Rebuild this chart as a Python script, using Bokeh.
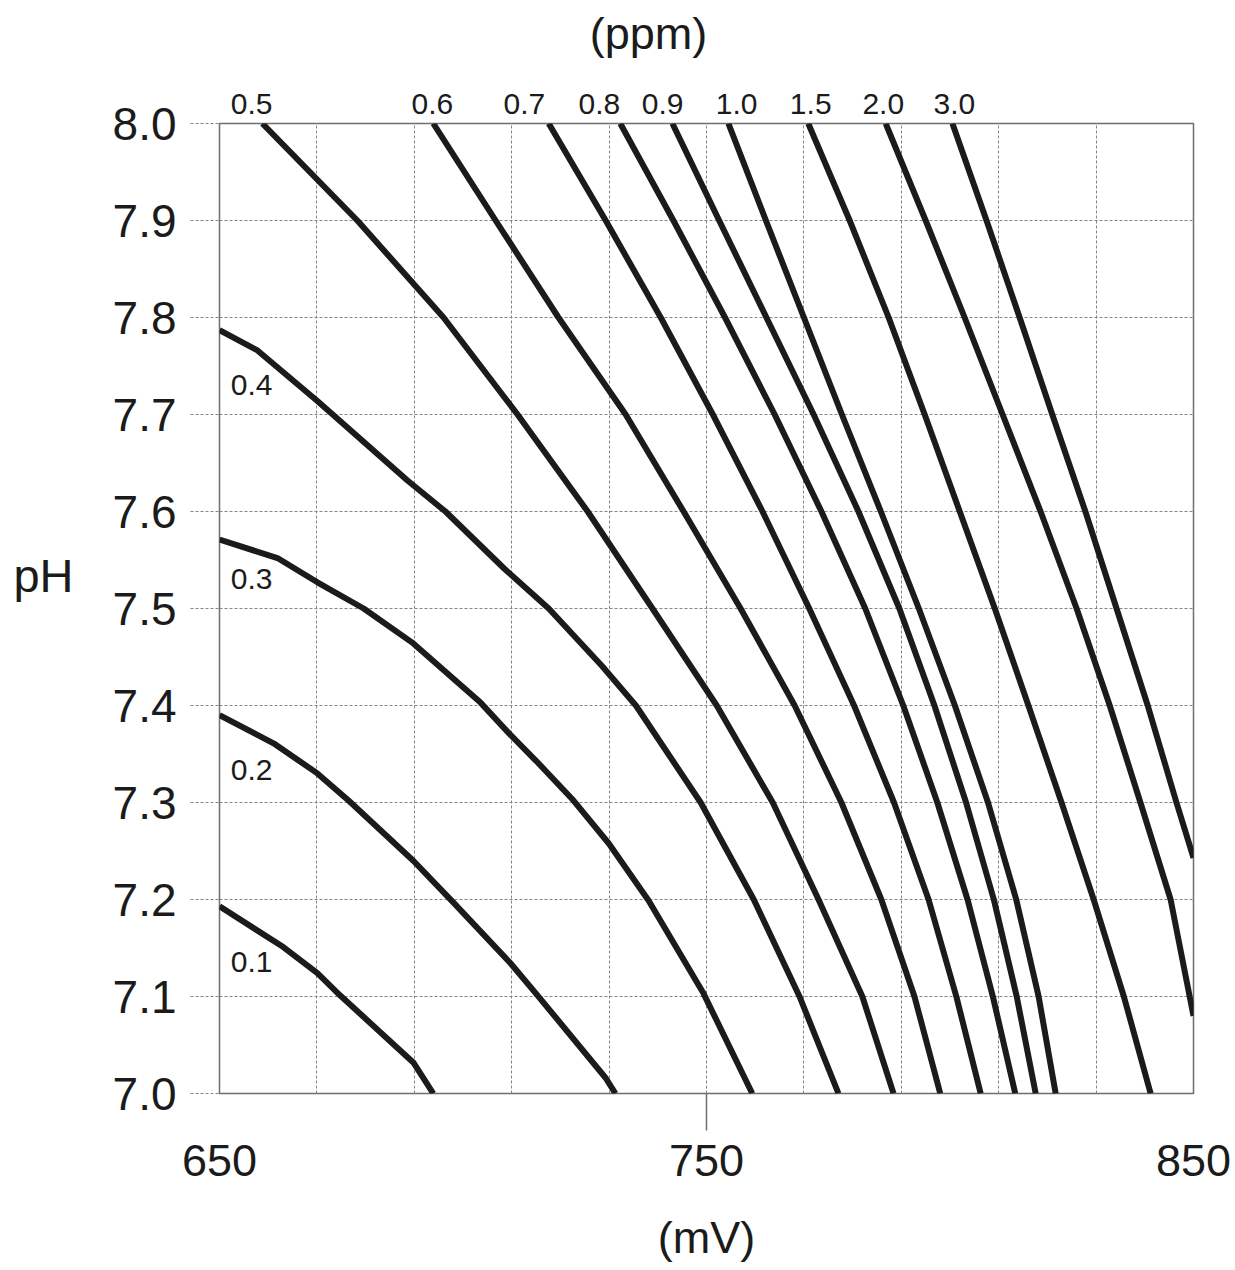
from bokeh.plotting import figure
from bokeh.models import FixedTicker, LinearAxis, Range1d, PrintfTickFormatter
from bokeh.embed import file_html
from bokeh.resources import INLINE

# ---- data ----
ph_levels = [8.0, 7.9, 7.8, 7.7, 7.6, 7.5, 7.4, 7.3, 7.2, 7.1, 7.0]

ph_01 = [7.193, 7.151, 7.124, 7.101, 7.032, 7.0]
mv_01 = [650.0, 663.1, 670.1, 674.8, 689.8, 693.9]

ph_02 = [7.390, 7.361, 7.330, 7.302, 7.240, 7.197, 7.134, 7.103, 7.016, 7.0]
mv_02 = [650.0, 661.1, 670.1, 676.5, 689.8, 698.0, 709.8, 715.0, 729.3, 731.3]

ph_03 = [7.571, 7.552, 7.527, 7.500, 7.464, 7.403, 7.371, 7.343, 7.302, 7.258, 7.199, 7.103, 7.0]
mv_03 = [650.0, 661.9, 670.1, 679.6, 689.8, 703.6, 709.5, 715.0, 722.7, 729.9, 738.1, 749.4, 759.4]

ph_04 = [7.787, 7.766, 7.714, 7.632, 7.600, 7.541, 7.500, 7.441, 7.400, 7.300, 7.200, 7.100, 7.0]
mv_04 = [650.0, 657.8, 670.1, 688.6, 696.4, 708.5, 717.6, 728.5, 735.5, 748.8, 759.7, 769.1, 777.1]

mv_05 = [658.8, 678.3, 696.0, 711.2, 725.6, 738.9, 752.1, 763.6, 773.0, 782.0, 788.4]
mv_06 = [693.9, 706.7, 719.6, 733.4, 745.3, 757.0, 768.1, 777.7, 785.9, 792.7, 798.0]
mv_07 = [717.6, 729.3, 740.6, 751.3, 761.5, 771.1, 780.3, 788.5, 795.6, 801.3, 806.3]
mv_08 = [732.3, 743.2, 753.8, 764.0, 773.6, 782.6, 790.4, 797.4, 803.6, 808.8, 813.4]
mv_09 = [743.0, 752.6, 762.3, 772.0, 781.2, 789.6, 796.8, 803.3, 809.0, 813.7, 817.6]
mv_10 = [754.5, 762.2, 770.0, 777.8, 785.8, 793.6, 801.0, 807.8, 813.6, 818.2, 821.7]
mv_15 = [770.9, 779.4, 787.4, 794.8, 802.0, 809.2, 816.1, 822.9, 829.5, 835.7, 841.2]

ph_20 = [8.0, 7.9, 7.8, 7.7, 7.6, 7.5, 7.4, 7.3, 7.2, 7.08]
mv_20 = [786.8, 795.0, 803.0, 810.8, 818.6, 826.0, 832.8, 839.1, 845.3, 850.0]

ph_30 = [8.0, 7.9, 7.8, 7.7, 7.6, 7.5, 7.4, 7.3, 7.243]
mv_30 = [800.5, 807.5, 814.3, 821.0, 827.8, 834.2, 840.6, 846.5, 850.0]

top_names = ["0.5", "0.6", "0.7", "0.8", "0.9", "1.0", "1.5", "2.0", "3.0"]
side_names = ["0.4", "0.3", "0.2", "0.1"]

x_ticks = [650, 750, 850]
x_grid = [650, 670, 690, 710, 730, 750, 770, 790, 810, 830, 850]
y_ticks = [7.0, 7.1, 7.2, 7.3, 7.4, 7.5, 7.6, 7.7, 7.8, 7.9, 8.0]

# ---- layout / style (not data) ----
top_label_x = [656.6, 693.7, 712.6, 728.0, 741.0, 756.2, 771.4, 786.3, 800.9]
side_label_x = 652.3
side_label_y = [7.730, 7.530, 7.334, 7.136]
ppm_title_x = 738.1
ph_title_y = 7.534

FONT = "Liberation Sans"
INK = "#1b1b1b"
GRID = "#858585"
FRAME = "#6e6e6e"

p = figure(width=1235, height=1270,
           x_range=Range1d(650, 850), y_range=Range1d(7.0, 8.0),
           output_backend="svg", toolbar_location=None,
           min_border_left=219, min_border_right=42,
           min_border_top=123, min_border_bottom=177)

p.background_fill_color = "white"
p.border_fill_color = "white"
p.outline_line_color = FRAME
p.outline_line_width = 1.5

p.xgrid.ticker = FixedTicker(ticks=x_grid)
p.ygrid.ticker = FixedTicker(ticks=y_ticks)
for g in (p.xgrid, p.ygrid):
    g.grid_line_color = GRID
    g.grid_line_width = 1
    g.grid_line_dash = "3 2"

# bottom: mark-only axis (long mark at 750) next to the frame
xa = p.xaxis[0]
xa.ticker = FixedTicker(ticks=[], minor_ticks=[750])
xa.axis_line_color = None
xa.major_tick_out = 37
xa.major_tick_in = 0
xa.minor_tick_out = 37
xa.minor_tick_in = 0
xa.minor_tick_line_color = FRAME
xa.minor_tick_line_width = 1.5
xa.major_label_standoff = 0

# bottom: labelled axis
xb = LinearAxis(ticker=FixedTicker(ticks=x_ticks))
xb.axis_line_color = None
xb.major_tick_line_color = None
xb.minor_tick_line_color = None
xb.major_label_text_font = FONT
xb.major_label_text_font_size = "45px"
xb.major_label_text_color = INK
xb.major_label_standoff = 8
xb.axis_label = "(mV)"
xb.axis_label_text_font = FONT
xb.axis_label_text_font_size = "45px"
xb.axis_label_text_font_style = "normal"
xb.axis_label_text_color = INK
xb.axis_label_standoff = 33
p.add_layout(xb, "below")

# left: pH ticks
ya = p.yaxis[0]
ya.ticker = FixedTicker(ticks=y_ticks)
ya.formatter = PrintfTickFormatter(format="%.1f")
ya.axis_line_color = None
ya.major_tick_out = 29
ya.major_tick_in = 0
ya.major_tick_line_color = GRID
ya.major_tick_line_dash = "3 2"
ya.major_tick_line_width = 1
ya.minor_tick_line_color = None
ya.major_label_text_font = FONT
ya.major_label_text_font_size = "46px"
ya.major_label_text_color = INK
ya.major_label_standoff = 14

# left: "pH" name, placed as a single labelled tick
yb = LinearAxis(ticker=FixedTicker(ticks=[ph_title_y]))
yb.major_label_overrides = {ph_title_y: "pH"}
yb.axis_line_color = None
yb.major_tick_line_color = None
yb.minor_tick_line_color = None
yb.major_label_text_font = FONT
yb.major_label_text_font_size = "47px"
yb.major_label_text_color = INK
yb.major_label_standoff = 30
p.add_layout(yb, "left")

# top: concentration labels
xt = LinearAxis(ticker=FixedTicker(ticks=top_label_x))
xt.major_label_overrides = {v: n for v, n in zip(top_label_x, top_names)}
xt.axis_line_color = None
xt.major_tick_line_color = None
xt.minor_tick_line_color = None
xt.major_label_text_font = FONT
xt.major_label_text_font_size = "30px"
xt.major_label_text_color = INK
xt.major_label_standoff = 4
p.add_layout(xt, "above")

# top: "(ppm)" unit, placed as a single labelled tick
xp = LinearAxis(ticker=FixedTicker(ticks=[ppm_title_x]))
xp.major_label_overrides = {ppm_title_x: "(ppm)"}
xp.axis_line_color = None
xp.major_tick_line_color = None
xp.minor_tick_line_color = None
xp.major_label_text_font = FONT
xp.major_label_text_font_size = "45px"
xp.major_label_text_color = INK
xp.major_label_standoff = 26
p.add_layout(xp, "above")

curves = [
    (mv_01, ph_01), (mv_02, ph_02), (mv_03, ph_03), (mv_04, ph_04),
    (mv_05, ph_levels), (mv_06, ph_levels), (mv_07, ph_levels),
    (mv_08, ph_levels), (mv_09, ph_levels), (mv_10, ph_levels),
    (mv_15, ph_levels), (mv_20, ph_20), (mv_30, ph_30),
]
for xs, ys in curves:
    p.line(xs, ys, line_width=6, line_color=INK, line_cap="butt", line_join="round")

# in-plot labels for the short curves
p.text(x=[side_label_x] * len(side_names), y=side_label_y, text=side_names,
       text_font={"value": FONT}, text_font_size="30px", text_color=INK,
       text_align="left", text_baseline="alphabetic")

open("out.html", "w").write(file_html(p, INLINE))
